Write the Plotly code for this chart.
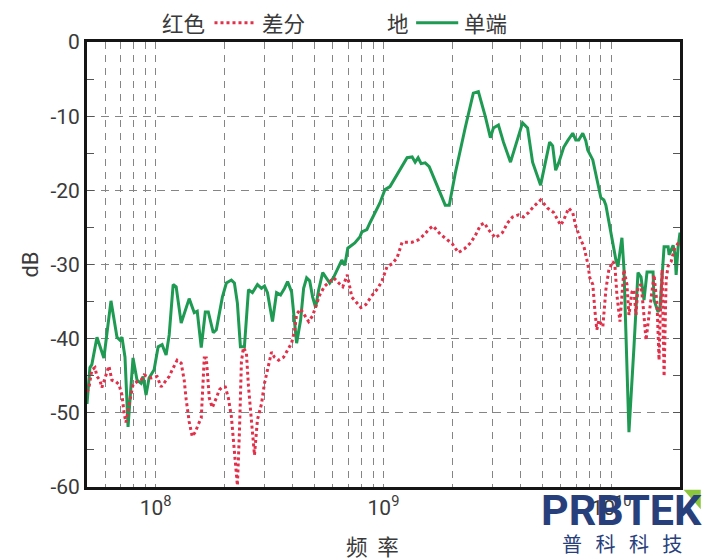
import math
import plotly.graph_objects as go

# ---------------- data ----------------
green_mhz = [50.0, 51.5, 52.5, 55.3, 59.3, 63.7, 67.7, 69.8, 71.2, 73.4,
             75.7, 79.6, 82.9, 86.3, 88.1, 90.8, 93.6, 98.5, 102.6, 106.8,
             111.2, 114.7, 119.4, 123.1, 129.5, 140.4, 147.8, 152.3, 158.6, 165.2,
             170.3, 179.1, 184.7, 196.3, 204.4, 215.0, 221.7, 228.5, 235.6, 245.3,
             255.6, 266.0, 279.9, 291.5, 300.5, 309.7, 325.8, 339.4, 353.4, 368.0,
             379.4, 395.1, 415.7, 432.8, 446.2, 460.0, 474.3, 488.8, 503.9, 519.5,
             541.0, 563.4, 580.9, 604.9, 656.0, 676.3, 697.1, 748.4, 787.4, 803.6,
             845.3, 871.4, 964.4, 1015, 1068, 1269, 1336, 1377, 1419, 1463,
             1524, 1587, 1866, 1943, 2065, 2286, 2478, 2608, 2800, 2945,
             3036, 3194, 3360, 3608, 4075, 4287, 4510, 4891, 5145, 5358,
             5524, 5695, 5870, 6176, 6432, 6766, 6975, 7190, 7488, 7720,
             7878, 8288, 8990, 9267, 9457, 10467, 10681, 11123, 11350, 11941,
             12562, 13083, 13489, 13903, 14334, 15232, 15387, 16025, 16353, 17030,
             17737, 17917, 18659, 19041, 19233, 19630, 20000]
green_db = [-48.8, -43.9, -43.5, -39.8, -42.6, -34.9, -39.8, -40.2, -39.8, -42.5,
            -51.9, -42.6, -45.6, -46.0, -45.1, -47.6, -45.3, -44.2, -41.1, -40.8,
            -42.2, -39.5, -32.7, -33.0, -37.9, -34.6, -36.5, -36.3, -41.2, -36.4,
            -36.4, -39.2, -38.8, -34.4, -32.5, -32.1, -32.5, -35.2, -41.1, -41.1,
            -33.4, -33.8, -32.7, -33.2, -32.9, -33.8, -37.7, -33.8, -34.1, -33.2,
            -32.3, -33.7, -40.6, -37.5, -33.2, -31.8, -32.2, -34.4, -35.8, -33.4,
            -31.1, -31.9, -32.5, -31.7, -29.4, -30.1, -27.8, -27.1, -26.3, -25.6,
            -25.3, -24.4, -21.7, -19.9, -19.5, -15.6, -15.5, -16.2, -15.6, -16.4,
            -16.3, -16.8, -22.0, -22.0, -17.7, -11.5, -6.9, -6.7, -10.1, -12.9,
            -11.6, -11.2, -13.5, -16.2, -10.9, -11.6, -16.2, -19.3, -16.3, -13.5,
            -14.0, -17.3, -16.3, -14.2, -13.3, -12.3, -13.2, -13.2, -12.3, -13.3,
            -14.6, -15.9, -21.0, -21.3, -22.0, -29.4, -30.3, -26.4, -30.5, -52.6,
            -41.1, -31.1, -31.7, -34.8, -31.0, -31.0, -34.8, -36.4, -35.7, -27.6,
            -27.6, -28.7, -27.4, -28.7, -31.4, -27.6, -25.7]

red_mhz = [50.0, 51.0, 52.5, 54.2, 55.3, 57.0, 58.1, 60.5, 62.4, 64.3,
           67.0, 69.1, 71.2, 72.7, 74.1, 76.5, 79.6, 82.9, 86.3, 89.0,
           91.7, 95.6, 101.5, 105.7, 110.1, 114.7, 118.3, 124.3, 129.5, 133.5,
           136.2, 140.4, 144.8, 149.3, 153.8, 158.6, 163.5, 166.9, 172.0, 177.3,
           184.7, 190.4, 196.3, 202.3, 208.6, 215.0, 219.4, 226.2, 228.5, 233.2,
           238.0, 242.9, 250.3, 255.5, 263.4, 271.5, 279.9, 291.5, 300.5, 309.7,
           322.6, 332.5, 346.3, 364.3, 379.4, 395.1, 407.3, 415.7, 432.8, 450.8,
           469.4, 488.8, 503.9, 524.9, 552.1, 580.9, 604.9, 636.3, 662.6, 693.6,
           704.2, 726.0, 756.0, 795.5, 836.7, 889.2, 945.0, 985.0, 1036, 1091,
           1147, 1207, 1269, 1336, 1419, 1508, 1587, 1652, 1774, 1885,
           2003, 2129, 2263, 2405, 2529, 2661, 2771, 2886, 3098, 3327,
           3500, 3682, 3913, 4116, 4330, 4555, 4891, 5251, 5580, 5991,
           6176, 6497, 6766, 6975, 7338, 7565, 7878, 8040, 8288, 8458,
           8631, 8808, 8990, 9173, 9457, 9749, 10150, 10361, 10573, 10900,
           11350, 11701, 11941, 12310, 12562, 12820, 13083, 13489, 13763, 14189,
           14627, 14929, 15387, 15863, 16187, 16353, 16688, 17030, 17378, 17737,
           18290, 18850, 19630, 20000]
red_db = [-47.2, -46.6, -44.2, -43.9, -45.1, -45.6, -46.6, -45.1, -43.7, -45.6,
          -45.8, -46.2, -47.6, -50.0, -51.3, -48.9, -46.2, -45.8, -45.6, -44.9,
          -45.1, -45.3, -45.1, -46.5, -45.8, -45.1, -44.2, -42.9, -43.3, -45.6,
          -48.2, -51.2, -53.2, -52.6, -51.6, -50.7, -42.6, -42.6, -48.0, -49.3,
          -48.0, -46.9, -46.5, -46.5, -48.0, -50.5, -53.6, -59.0, -59.8, -52.7,
          -43.1, -41.2, -41.9, -46.4, -50.9, -55.7, -50.9, -48.8, -46.0, -44.2,
          -41.8, -42.5, -42.9, -42.5, -41.5, -40.6, -38.9, -36.7, -36.0, -36.9,
          -37.7, -36.9, -35.6, -34.1, -32.9, -32.3, -31.8, -32.5, -33.0, -31.4,
          -32.5, -34.4, -35.0, -35.8, -35.4, -34.2, -33.2, -32.2, -30.3, -29.9,
          -29.1, -27.0, -27.0, -27.0, -26.7, -26.0, -25.2, -24.8, -25.9, -26.5,
          -27.2, -28.4, -27.9, -27.1, -26.1, -24.7, -24.4, -25.3, -26.4, -25.7,
          -24.4, -23.6, -23.3, -23.6, -23.0, -22.2, -21.3, -22.4, -23.0, -24.7,
          -24.0, -22.4, -23.0, -24.8, -26.7, -27.5, -29.9, -31.8, -32.7, -36.1,
          -38.8, -37.5, -38.0, -38.4, -33.4, -30.7, -29.6, -30.1, -34.1, -37.7,
          -30.7, -32.7, -36.8, -33.7, -33.4, -36.8, -33.0, -32.7, -35.4, -40.2,
          -36.8, -34.5, -31.4, -35.4, -42.9, -37.5, -30.7, -45.1, -32.1, -30.2,
          -29.6, -28.0, -27.1, -26.7]

x_tick_vals = [1e8, 1e9, 1e10]
x_tick_text = ["10<sup>8</sup>", "10<sup>9</sup>", "10<sup>10</sup>"]
y_tick_vals = [0, -10, -20, -30, -40, -50, -60]
y_tick_text = ["0", "-10", "-20", "-30", "-40", "-50", "-60"]

legend_red = ("红色", "差分")
legend_green = ("地", "单端")
x_title = "频&nbsp;&nbsp;率"
y_title = "dB"

# ---------------- styling ----------------
RED = "#e0304a"
GREEN = "#1f9a52"
GRID = "#858585"
TXT = "#3a3a3a"
NAVY = "#27407c"
CJK = "Noto Sans CJK SC"
NUM = "Roboto, Liberation Sans, sans-serif"

minor_x = [m * 10 ** e for e in (7, 8, 9, 10) for m in range(2, 10)]
minor_x = [v for v in minor_x if 5e7 <= v <= 2e10]

fig = go.Figure()
fig.add_trace(go.Scatter(
    x=[f * 1e6 for f in green_mhz], y=green_db, mode="lines", name="单端",
    line=dict(color=GREEN, width=3)))
fig.add_trace(go.Scatter(
    x=[f * 1e6 for f in red_mhz], y=red_db, mode="lines", name="差分",
    line=dict(color=RED, width=3, dash="3px,3px")))

# page body adds an 8px margin, so the figure is 8px smaller than the window
fig.update_layout(
    width=712, height=552,
    margin=dict(l=79, r=40, t=34, b=73),
    paper_bgcolor="white", plot_bgcolor="white",
    showlegend=False,
    font=dict(family=NUM, color=TXT),
)

fig.update_xaxes(
    type="log", range=[math.log10(5e7), math.log10(2e10)],
    tickmode="array", tickvals=x_tick_vals, ticktext=x_tick_text,
    tickfont=dict(size=21, color=TXT, family=NUM),
    showgrid=True, gridcolor=GRID, gridwidth=1.2, griddash="7px,6px",
    showline=True, linecolor="#151515", linewidth=3, mirror=True,
    ticks="", zeroline=False,
    minor=dict(tickmode="array", tickvals=minor_x, showgrid=True,
               gridcolor=GRID, gridwidth=1.2, griddash="7px,6px", ticks=""),
)
fig.update_yaxes(
    range=[-60, 0], tickmode="array", tickvals=y_tick_vals, ticktext=y_tick_text,
    tickfont=dict(size=21, color=TXT, family=NUM),
    showgrid=True, gridcolor=GRID, gridwidth=1.2, griddash="8px,6px",
    showline=True, linecolor="#151515", linewidth=3, mirror="allticks",
    ticks="inside", ticklen=7, tickcolor="#555", tickwidth=1.2, zeroline=False,
    minor=dict(dtick=5, ticks="inside", ticklen=7, tickcolor="#555", showgrid=False),
    title=dict(text=y_title, font=dict(size=22, family=NUM, color=TXT), standoff=6),
)

# x axis title
fig.add_annotation(text=x_title, x=0.482, y=-0.132, xref="paper", yref="paper",
                   showarrow=False, xanchor="center", yanchor="middle",
                   font=dict(size=21.5, family=CJK, color=TXT), borderpad=0)

# legend drawn as text + line samples above the plot
ly = 1.043
anns = [
    dict(text=legend_red[0], x=0.162, y=ly),
    dict(text=legend_red[1], x=0.331, y=ly),
    dict(text=legend_green[0], x=0.525, y=ly),
    dict(text=legend_green[1], x=0.672, y=ly),
]
for a in anns:
    fig.add_annotation(text=a["text"], x=a["x"], y=a["y"], xref="paper", yref="paper",
                       showarrow=False, font=dict(size=21.5, family=CJK, color=TXT),
                       xanchor="center", yanchor="middle", borderpad=0)
fig.add_shape(type="line", xref="paper", yref="paper", x0=0.215, x1=0.282, y0=ly, y1=ly,
              line=dict(color=RED, width=3, dash="3px,3px"))
fig.add_shape(type="line", xref="paper", yref="paper", x0=0.555, x1=0.626, y0=ly, y1=ly,
              line=dict(color=GREEN, width=3))

# watermark logo
fig.add_annotation(text="<b>PRBTEK</b>", x=0.902, y=-0.052, xref="paper", yref="paper",
                   showarrow=False, xanchor="center", yanchor="middle",
                   font=dict(size=43, family="Roboto", color=NAVY))
fig.add_annotation(text="普 &nbsp; 科 &nbsp; 科 &nbsp; 技", x=0.902, y=-0.126, xref="paper", yref="paper",
                   showarrow=False, xanchor="center", yanchor="middle",
                   font=dict(size=20, family=CJK, color=NAVY))
fig.add_shape(type="path", xref="paper", yref="paper",
              path="M 1.006 -0.006 L 1.035 -0.006 L 1.035 -0.05 Z",
              fillcolor="#8cc63f", line=dict(width=0))

fig.write_html("out.html")
